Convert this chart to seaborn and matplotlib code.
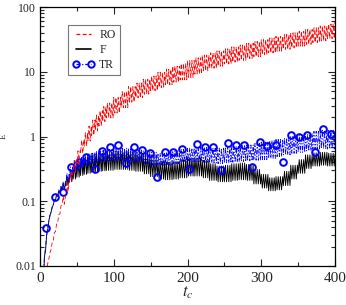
import numpy as np
import pandas as pd
import matplotlib
matplotlib.use("Agg")
import matplotlib.pyplot as plt
import seaborn as sns
from matplotlib.lines import Line2D
from matplotlib.ticker import LogLocator, MultipleLocator, NullFormatter, FixedLocator, FixedFormatter

# ---- data ----
t_knots = [0, 3, 6, 9, 12, 15, 18, 21, 24, 27, 30, 35, 40, 45, 50, 55,
           60, 65, 70, 75, 80, 85, 90, 100, 110, 120, 130, 140, 150, 160, 170, 180, 190,
           200, 210, 220, 230, 240, 250, 260, 270, 280, 290, 300, 310, 320,
           330, 340, 350, 360, 370, 380, 390, 400]

# lower / upper envelope of the fast oscillation of each quantity
ro_lo = [1e-4, 0.001, 0.004, 0.009, 0.013, 0.018, 0.024, 0.034, 0.047, 0.064,
         0.09, 0.14, 0.2, 0.28, 0.38, 0.55,
         0.71, 0.85, 1.04, 1.23, 1.46, 1.7, 1.93, 2.3, 2.8, 3.4, 3.95, 4.5, 5.1, 5.7, 6.3, 6.9, 7.5,
         8.2, 9.2, 10.3, 11.3, 12.2, 13.2, 14.1, 15.0, 16.0, 17.1, 18.3, 19.5, 20.8,
         22.2, 23.5, 24.9, 26.5, 28.2, 30.0, 32.4, 34.8]
ro_hi = [1e-4, 0.0012, 0.005, 0.011, 0.016, 0.023, 0.033, 0.045, 0.062, 0.085,
         0.12, 0.19, 0.28, 0.43, 0.6, 0.88,
         1.15, 1.45, 1.8, 2.15, 2.5, 2.9, 3.3, 4.0, 4.95, 5.9, 6.7, 7.7, 8.6, 9.8, 10.9, 12.2, 13.4,
         14.9, 16.4, 18.1, 19.6, 21.0, 22.6, 24.2, 25.8, 27.5, 29.4, 31.3, 33.3, 35.4,
         37.6, 39.9, 42.3, 44.9, 47.8, 50.9, 54.6, 58.8]

f_lo = [5e-4, 0.004, 0.014, 0.03, 0.05, 0.068, 0.088, 0.105, 0.12, 0.135,
        0.15, 0.175, 0.2, 0.22, 0.235, 0.25,
        0.26, 0.27, 0.28, 0.285, 0.29, 0.295, 0.3, 0.31, 0.31, 0.3, 0.29, 0.265, 0.24, 0.22, 0.215, 0.22, 0.23,
        0.245, 0.245, 0.23, 0.21, 0.2, 0.2, 0.21, 0.215, 0.21, 0.185, 0.16, 0.145, 0.15,
        0.175, 0.22, 0.27, 0.32, 0.35, 0.36, 0.35, 0.34]
f_hi = [5e-4, 0.005, 0.017, 0.036, 0.06, 0.08, 0.104, 0.125, 0.145, 0.165,
        0.19, 0.25, 0.31, 0.37, 0.42, 0.45,
        0.48, 0.5, 0.52, 0.535, 0.55, 0.56, 0.57, 0.6, 0.6, 0.58, 0.55, 0.5, 0.45, 0.41, 0.4, 0.41, 0.44,
        0.47, 0.47, 0.43, 0.38, 0.35, 0.36, 0.38, 0.39, 0.37, 0.31, 0.26, 0.23, 0.24,
        0.29, 0.36, 0.44, 0.52, 0.56, 0.57, 0.55, 0.53]

tr_lo = [5e-4, 0.004, 0.014, 0.03, 0.05, 0.068, 0.088, 0.106, 0.12, 0.135,
         0.15, 0.19, 0.23, 0.27, 0.3, 0.33,
         0.35, 0.365, 0.38, 0.39, 0.4, 0.41, 0.42, 0.43, 0.43, 0.42, 0.4, 0.38, 0.36, 0.35, 0.36, 0.38, 0.4,
         0.41, 0.41, 0.4, 0.39, 0.38, 0.39, 0.4, 0.41, 0.42, 0.43, 0.44, 0.46, 0.49,
         0.52, 0.55, 0.57, 0.6, 0.64, 0.65, 0.64, 0.62]
tr_hi = [5e-4, 0.006, 0.02, 0.04, 0.062, 0.082, 0.106, 0.128, 0.15, 0.17,
         0.2, 0.27, 0.34, 0.4, 0.45, 0.49,
         0.52, 0.545, 0.57, 0.585, 0.6, 0.615, 0.63, 0.65, 0.66, 0.64, 0.62, 0.6, 0.57, 0.55, 0.56, 0.6, 0.63,
         0.66, 0.68, 0.68, 0.66, 0.66, 0.68, 0.7, 0.72, 0.74, 0.78, 0.82, 0.86, 0.9,
         0.95, 1.0, 1.05, 1.1, 1.2, 1.25, 1.25, 1.2]

# TR symbols (open circles) as seen on the curve
tr_mark_t = [8, 20, 31, 42, 53, 63, 74, 84, 95, 106, 116, 127, 138, 149, 159,
             170, 181, 192, 202, 213, 224, 234, 245, 255, 266, 277, 287, 298,
             308, 320, 330, 341, 351, 362, 373, 384, 394]
tr_mark_v = [0.039, 0.116, 0.14, 0.34, 0.41, 0.48, 0.31, 0.59, 0.68, 0.74, 0.39,
             0.68, 0.62, 0.55, 0.24, 0.57, 0.57, 0.64, 0.32, 0.76, 0.69, 0.69,
             0.30, 0.8, 0.74, 0.74, 0.34, 0.82, 0.72, 0.74, 0.40, 1.05, 0.98,
             1.05, 0.58, 1.3, 1.1]

labels = ["RO", "F", "TR"]
x_ticks = [0, 100, 200, 300, 400]
y_ticks = [0.01, 0.1, 1, 10, 100]
y_ticklabels = ["0.01", "0.1", "1", "10", "100"]


def oscillation(t, lo, hi, dt):
    """Fast oscillation drawn between the envelope values held at each knot."""
    xs, ys = [], []
    parity = 0
    for k in range(len(t)):
        t0 = t[k]
        t1 = t[k + 1] if k + 1 < len(t) else t[k] + dt
        tt = t0
        while tt < t1 - 1e-9:
            xs.append(tt)
            ys.append(hi[k] if parity else lo[k])
            parity ^= 1
            tt += dt
    return pd.DataFrame({"t": xs, "E": ys})


sns.set_style("ticks")
plt.rcParams["font.family"] = ["Liberation Serif", "DejaVu Serif"]
plt.rcParams["mathtext.fontset"] = "stix"

fig = plt.figure(figsize=(3.46, 3.05), dpi=100)
ax = fig.add_axes([40 / 346, 1 - 266 / 305, 295 / 346, 259 / 305])

df_f = oscillation(t_knots, f_lo, f_hi, 1.5)
df_tr = oscillation(t_knots, tr_lo, tr_hi, 1.5)
df_ro = oscillation(t_knots, ro_lo, ro_hi, 1.5)

sns.lineplot(data=df_f, x="t", y="E", estimator=None, sort=False, ax=ax,
             color="black", linewidth=0.65)
sns.lineplot(data=df_tr, x="t", y="E", estimator=None, sort=False, ax=ax,
             color="blue", linewidth=0.6, linestyle=(0, (5, 2, 1.5, 2)))
sns.lineplot(x=tr_mark_t, y=tr_mark_v, estimator=None, sort=False, ax=ax,
             color="blue", linestyle="", marker="o", markersize=4.8,
             markerfacecolor="none", markeredgecolor="blue", markeredgewidth=1.4)
sns.lineplot(data=df_ro, x="t", y="E", estimator=None, sort=False, ax=ax,
             color="red", linewidth=0.6, linestyle=(0, (5, 3)))

ax.set_yscale("log")
ax.set_xlim(0, 400)
ax.set_ylim(0.01, 100)

ax.xaxis.set_major_locator(FixedLocator(x_ticks))
ax.xaxis.set_minor_locator(MultipleLocator(50))
ax.yaxis.set_major_locator(FixedLocator(y_ticks))
ax.yaxis.set_major_formatter(FixedFormatter(y_ticklabels))
ax.yaxis.set_minor_locator(LogLocator(base=10, subs=np.arange(2, 10)))
ax.yaxis.set_minor_formatter(NullFormatter())

ax.tick_params(which="both", direction="in", top=True, right=True, width=0.8)
ax.tick_params(which="major", length=5)
ax.tick_params(which="minor", length=3)
ax.tick_params(axis="x", labelsize=11, pad=4)
ax.tick_params(axis="y", labelsize=8.5, pad=3)
for s in ax.spines.values():
    s.set_linewidth(0.9)
    s.set_color("black")

ax.set_xlabel(r"$t_c$", fontsize=12, labelpad=0)
ax.set_ylabel("E", fontsize=6, labelpad=5)

handles = [
    Line2D([], [], color="red", linewidth=0.9, linestyle=(0, (3, 2))),
    Line2D([], [], color="black", linewidth=1.2),
    Line2D([], [], color="blue", linewidth=0.9, linestyle=(0, (3, 1.5, 1, 1.5)),
           marker="o", markersize=4.6, markerfacecolor="none",
           markeredgecolor="blue", markeredgewidth=1.4),
]
leg = ax.legend(handles, labels, loc="upper left", bbox_to_anchor=(0.095, 0.93),
                borderaxespad=0, fontsize=8.5, frameon=True, fancybox=False,
                handlelength=1.9, handletextpad=0.4, labelspacing=0.25,
                borderpad=0.35, numpoints=2)
leg.get_frame().set_edgecolor("#555555")
leg.get_frame().set_linewidth(0.8)

fig.savefig("out.png", dpi=100)
